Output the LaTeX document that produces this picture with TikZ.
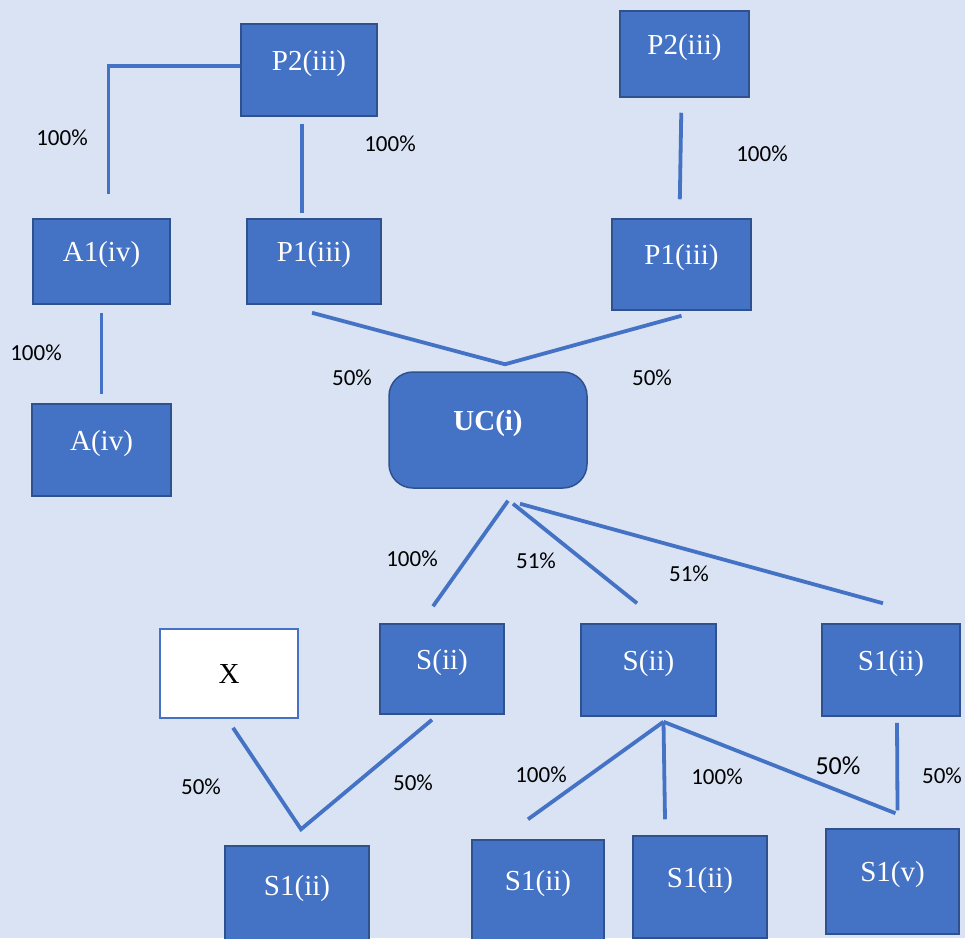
\documentclass[tikz,border=0pt]{standalone}
\usepackage{fontspec}
\setmainfont{Liberation Serif}
\setsansfont{Carlito}
\definecolor{bgblue}{HTML}{DAE3F3}
\definecolor{boxfill}{HTML}{4472C4}
\definecolor{boxline}{HTML}{2F528F}
\tikzset{
  entity/.style={draw=boxline, fill=boxfill, line width=1.5pt, text=white,
    font=\fontsize{29}{31}\selectfont, text height=12pt, text depth=12pt,
    inner sep=0pt},
  link/.style={draw=boxfill, line width=3.8pt},
  pct/.style={font=\sffamily\fontsize{23}{25}\selectfont, text=black, inner sep=0pt}
}
\begin{document}
\begin{tikzpicture}[x=1pt, y=-1pt]
  % Canvas
  \fill[bgblue] (0,0) rectangle (965,938);
  \useasboundingbox (0,0) rectangle (965,938);
  \clip (0,0) rectangle (965,938);

  % Upper holdings
  \node[entity, minimum width=136pt, minimum height=92pt] (p2a) at (309,70) {P2(iii)};
  \node[entity, minimum width=129pt, minimum height=86pt] (p2b) at (684.5,54) {P2(iii)};
  \node[entity, minimum width=137pt, minimum height=85pt] (a1) at (101.5,261.5) {A1(iv)};
  \node[entity, minimum width=134pt, minimum height=85pt] (p1a) at (314,261.5) {P1(iii)};
  \node[entity, minimum width=139pt, minimum height=91pt] (p1b) at (681.5,264.5) {P1(iii)};
  \node[entity, minimum width=139pt, minimum height=92pt] (a) at (101.5,450) {A(iv)};

  % Reporting company
  \node[entity, rounded corners=24pt, minimum width=198pt, minimum height=116pt,
    font=\fontsize{29}{31}\selectfont\bfseries] (uc) at (488,430) {UC(i)};

  % Subsidiaries
  \node[draw=boxfill, fill=white, line width=1.5pt, minimum width=138pt, minimum height=89pt,
    font=\fontsize{29}{31}\selectfont] (x) at (229,673.5) {X};
  \node[entity, minimum width=124pt, minimum height=90pt] (sa) at (442,669) {S(ii)};
  \node[entity, minimum width=135pt, minimum height=92pt] (sb) at (648.5,670) {S(ii)};
  \node[entity, minimum width=138pt, minimum height=92pt] (s1c) at (891,670) {S1(ii)};
  \node[entity, minimum width=144pt, minimum height=98pt] (s1a) at (297,895) {S1(ii)};
  \node[entity, minimum width=132pt, minimum height=100pt] (s1b) at (538,890) {S1(ii)};
  \node[entity, minimum width=134pt, minimum height=102pt] (s1d) at (700,887) {S1(ii)};
  \node[entity, minimum width=133pt, minimum height=105pt] (s1v) at (892.5,881.5) {S1(v)};

  % Junction points
  \coordinate (ucin) at ([xshift=17pt, yshift=7pt]uc.north);
  \coordinate (s1ain) at ([xshift=4pt, yshift=16pt]s1a.north);
  \coordinate (sbout) at ([xshift=15pt, yshift=-5pt]sb.south);

  % Connectors
  \draw[link] ([yshift=4pt]p2a.west) -| ([xshift=7pt, yshift=24pt]a1.north);
  \draw[link, shorten <=7pt, shorten >=5pt] ([xshift=-7pt]p2a.south) -- ([xshift=-12pt]p1a.north);
  \draw[link, shorten <=15pt, shorten >=19pt] ([xshift=-3pt]p2b.south) -- ([xshift=-2pt]p1b.north);
  \draw[link, shorten <=8pt, shorten >=9pt] (a1.south) -- (a.north);
  \draw[link] ([xshift=-2pt, yshift=-8pt]p1a.south) -- (ucin) -- ([yshift=-5pt]p1b.south);
  \draw[link] ([xshift=20pt, yshift=-12pt]uc.south) -- ([xshift=-9pt, yshift=17pt]sa.north);
  \draw[link] ([xshift=25pt, yshift=-15pt]uc.south) -- ([xshift=-11.5pt, yshift=20pt]sb.north);
  \draw[link] ([xshift=32pt, yshift=-15pt]uc.south) -- ([xshift=-8pt, yshift=20pt]s1c.north);
  \draw[link] ([xshift=4pt, yshift=-9pt]x.south) -- (s1ain) -- ([xshift=-10pt, yshift=-5pt]sa.south);
  \draw[link] (sbout) -- ([xshift=-10pt, yshift=20pt]s1b.north);
  \draw[link] (sbout) -- ([xshift=-35pt, yshift=16pt]s1d.north);
  \draw[link] (sbout) -- ([xshift=3pt, yshift=15pt]s1v.north);
  \draw[link] ([xshift=6pt, yshift=-6pt]s1c.south) -- ([xshift=5pt, yshift=18pt]s1v.north);

  % Shareholdings
  \node[pct] (q1) at (62,138) {100\%};
  \node[pct] (q2) at (390,144) {100\%};
  \node[pct] (q3) at (762,154) {100\%};
  \node[pct] (q4) at (36,353) {100\%};
  \node[pct] (q5) at (352,378) {50\%};
  \node[pct] (q6) at (652,378) {50\%};
  \node[pct] (q7) at (412,559) {100\%};
  \node[pct] (q8) at (536,561) {51\%};
  \node[pct] (q9) at (689,574) {51\%};
  \node[pct] (q10) at (201,787) {50\%};
  \node[pct] (q11) at (413,783) {50\%};
  \node[pct] (q12) at (541,775) {100\%};
  \node[pct] (q13) at (717,777) {100\%};
  \node[pct, font=\sffamily\fontsize{26}{28}\selectfont] (q14) at (838,766) {50\%};
  \node[pct] (q15) at (942,776) {50\%};
\end{tikzpicture}
\end{document}
